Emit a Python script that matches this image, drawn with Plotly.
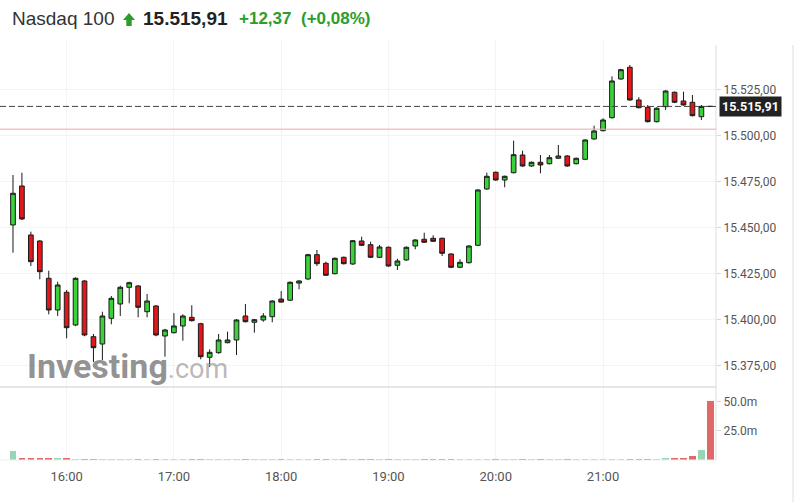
import pandas as pd
import plotly.graph_objects as go

# 5-minute candles, 15:30 - 22:00
times = pd.date_range("2023-07-13 15:30", periods=79, freq="5min")

open_ = [15451.47, 15472.66, 15446.03, 15442.77, 15422.50, 15405.27, 15414.89, 15397.12, 15421.03, 15390.76,
         15386.79, 15400.76, 15408.53, 15417.61, 15418.32, 15404.35, 15407.45, 15391.14, 15392.93, 15396.58,
         15401.30, 15397.83, 15379.57, 15382.07, 15387.50, 15388.97, 15402.01, 15398.59, 15399.84, 15401.63,
         15411.20, 15410.60, 15419.89, 15422.12, 15435.33, 15430.65, 15425.00, 15433.91, 15430.27, 15442.77,
         15440.76, 15433.91, 15439.35, 15429.57, 15432.45, 15440.05, 15443.70, 15444.24, 15444.24, 15435.71,
         15428.48, 15430.98, 15440.43, 15471.03, 15480.11, 15475.92, 15479.89, 15489.51, 15483.53, 15485.54,
         15484.78, 15487.72, 15488.97, 15484.78, 15487.17, 15498.21, 15502.72, 15509.78, 15530.82, 15537.17,
         15519.40, 15515.43, 15507.61, 15515.76, 15523.59, 15518.86, 15518.15, 15510.33, 15515.91]
high = [15478.64, 15479.89, 15447.83, 15443.20, 15426.63, 15420.65, 15416.14, 15423.00, 15421.50, 15392.23,
        15404.35, 15412.88, 15418.50, 15420.65, 15418.80, 15413.97, 15408.00, 15395.00, 15403.59, 15402.93,
        15407.83, 15398.30, 15383.91, 15392.23, 15393.48, 15400.30, 15408.53, 15400.40, 15403.59, 15410.60,
        15415.54, 15420.80, 15421.50, 15435.80, 15437.88, 15431.52, 15433.80, 15434.30, 15443.30, 15445.11,
        15442.39, 15440.60, 15439.80, 15433.15, 15439.80, 15443.70, 15447.28, 15445.87, 15444.60, 15436.10,
        15432.83, 15440.50, 15470.90, 15479.89, 15480.50, 15478.30, 15497.28, 15491.85, 15486.00, 15489.51,
        15489.51, 15494.95, 15489.40, 15488.10, 15498.10, 15505.43, 15509.46, 15532.28, 15536.30, 15538.42,
        15520.87, 15516.68, 15515.43, 15524.70, 15524.00, 15523.91, 15522.12, 15516.68, 15515.91]
low = [15436.41, 15454.20, 15429.18, 15421.96, 15402.93, 15402.01, 15389.89, 15396.50, 15391.00, 15377.01,
       15378.10, 15397.50, 15402.01, 15408.91, 15401.30, 15401.30, 15391.00, 15379.89, 15392.50, 15388.59,
       15399.00, 15378.48, 15374.29, 15381.50, 15387.17, 15380.82, 15398.50, 15392.93, 15398.91, 15398.59,
       15409.20, 15410.20, 15416.52, 15421.70, 15429.18, 15423.70, 15424.60, 15430.00, 15429.80, 15440.00,
       15433.50, 15433.50, 15428.80, 15427.01, 15432.00, 15438.26, 15441.70, 15442.20, 15434.62, 15428.00,
       15428.00, 15430.50, 15440.00, 15470.60, 15475.50, 15471.96, 15479.50, 15483.10, 15483.10, 15479.57,
       15484.40, 15487.30, 15483.10, 15484.40, 15486.70, 15497.80, 15502.30, 15509.30, 15530.40, 15519.00,
       15514.80, 15507.20, 15507.20, 15513.97, 15517.70, 15516.30, 15510.50, 15508.53, 15515.91]
close = [15468.70, 15454.73, 15431.52, 15426.09, 15405.27, 15418.86, 15395.65, 15422.50, 15391.68, 15384.78,
         15402.01, 15411.63, 15417.61, 15420.11, 15406.74, 15410.16, 15391.68, 15394.40, 15396.58, 15402.01,
         15399.46, 15379.89, 15382.28, 15388.97, 15388.97, 15399.84, 15398.91, 15400.00, 15402.01, 15410.16,
         15409.57, 15420.33, 15421.03, 15435.33, 15430.43, 15424.13, 15433.37, 15430.43, 15442.93, 15440.43,
         15433.91, 15439.51, 15429.18, 15431.90, 15439.35, 15443.32, 15442.07, 15442.61, 15436.09, 15428.48,
         15431.20, 15440.05, 15470.49, 15477.93, 15475.92, 15477.93, 15489.67, 15483.53, 15485.54, 15484.08,
         15488.04, 15488.97, 15483.53, 15487.72, 15497.66, 15502.55, 15508.53, 15529.73, 15535.87, 15519.40,
         15515.22, 15507.61, 15514.89, 15524.29, 15518.15, 15516.68, 15510.87, 15515.91, 15515.91]
volume_m = [7.5, 1.6, 1.5, 1.5, 1.6, 1.4, 1.5] + [0.7] * 66 + [1.5, 1.5, 1.5, 3.5, 8.2, 51.0]

last_price = 15515.91
prev_close = 15503.54
price_ticks = [15375, 15400, 15425, 15450, 15475, 15500, 15525]
hour_ticks = pd.date_range("2023-07-13 16:00", periods=6, freq="1h")

GREEN = "#3ad13a"
RED = "#e3161b"
vol_colors = ["#98d5b8" if c > o else "#e06868" for o, c in zip(open_, close)]

fig = go.Figure()
fig.add_trace(go.Candlestick(
    x=times, open=open_, high=high, low=low, close=close,
    increasing=dict(fillcolor=GREEN, line=dict(color="#1a1a1a", width=1)),
    decreasing=dict(fillcolor=RED, line=dict(color="#1a1a1a", width=1)),
    whiskerwidth=0, xaxis="x", yaxis="y", showlegend=False,
))
fig.add_trace(go.Bar(
    x=times, y=[v * 1e6 for v in volume_m], marker_color=vol_colors, marker_line_width=0,
    width=220000, xaxis="x", yaxis="y2", showlegend=False,
))

W, H = 716, 420  # plot area in px


def px(x):
    return x / W


def py(y):
    return (460 - y) / H


grid = "#f4f4f4"
axis_font = dict(family="Roboto", size=12, color="#555")
fig.update_layout(
    width=797, height=502,
    margin=dict(l=0, r=81, t=40, b=42),
    paper_bgcolor="white", plot_bgcolor="white",
    separators=",.",
    bargap=0, boxgap=0.25,
    xaxis=dict(
        type="date", anchor="y2",
        range=["2023-07-13 15:22:44", "2023-07-13 22:03:11"],
        tickformat="%H:%M", tickvals=hour_ticks,
        showgrid=True, gridcolor=grid, zeroline=False,
        ticks="outside", ticklen=4, tickcolor="rgba(0,0,0,0)",
        tickfont=dict(family="Roboto", size=13, color="#555"),
        rangeslider=dict(visible=False), showline=False,
    ),
    yaxis=dict(
        domain=[py(387), 1], side="right", range=[15363.42, 15552.0],
        tickvals=price_ticks, tickformat=",.2f",
        showgrid=True, gridcolor=grid, zeroline=False,
        ticks="outside", ticklen=4, tickcolor="#d8d8d8",
        tickfont=axis_font, showline=False,
    ),
    yaxis2=dict(
        domain=[0, py(388)], side="right", range=[0, 62e6],
        tickvals=[25e6, 50e6], ticktext=["25.0m", "50.0m"],
        showgrid=False, zeroline=False,
        ticks="outside", ticklen=4, tickcolor="#d8d8d8",
        tickfont=axis_font, showline=False,
    ),
)

# frame lines
fig.add_shape(type="line", xref="paper", yref="paper", x0=0, x1=1, y0=py(387), y1=py(387),
              line=dict(color="#cccccc", width=1))
fig.add_shape(type="line", xref="paper", yref="paper", x0=1, x1=1, y0=0, y1=py(45),
              line=dict(color="#dddddd", width=1))
fig.add_shape(type="line", xref="paper", yref="paper", x0=0, x1=1, y0=0, y1=0,
              line=dict(color="#eeeeee", width=1))
fig.add_shape(type="line", xref="paper", yref="paper", x0=px(793), x1=px(793), y0=py(502), y1=py(45),
              line=dict(color="#dddddd", width=1))

# previous close and last price lines
fig.add_shape(type="line", xref="paper", yref="y", x0=0, x1=1, y0=prev_close, y1=prev_close,
              line=dict(color="#f0a8a8", width=1))
fig.add_shape(type="line", xref="paper", yref="y", x0=0, x1=1, y0=last_price, y1=last_price,
              line=dict(color="#444", width=1, dash="6px,3px"))
fig.add_annotation(xref="paper", yref="y", x=px(719), y=last_price, xanchor="left", yanchor="middle",
                   text="<b>15.515,91</b>", showarrow=False, bgcolor="#222", borderpad=2,
                   font=dict(family="Roboto", size=12.5, color="white"))

# header
title_y = py(19)
fig.add_annotation(xref="paper", yref="paper", x=px(10), y=title_y, xanchor="left", yanchor="middle",
                   text="Nasdaq 100", showarrow=False,
                   font=dict(family="Liberation Sans", size=19, color="#333"))
arrow = [(123, 20), (129, 13), (135, 20), (131.7, 20), (131.7, 26), (126.3, 26), (126.3, 20)]
fig.add_shape(type="path", xref="paper", yref="paper",
              path="M " + " L ".join(f"{px(a)},{py(b)}" for a, b in arrow) + " Z",
              fillcolor="#2a9d2a", line=dict(width=0))
fig.add_annotation(xref="paper", yref="paper", x=px(141), y=title_y, xanchor="left", yanchor="middle",
                   text="<b>15.515,91</b>", showarrow=False,
                   font=dict(family="Liberation Sans", size=19, color="#222"))
fig.add_annotation(xref="paper", yref="paper", x=px(237), y=title_y, xanchor="left", yanchor="middle",
                   text="<b>+12,37</b>", showarrow=False,
                   font=dict(family="Liberation Sans", size=17, color="#2a9d2a"))
fig.add_annotation(xref="paper", yref="paper", x=px(299), y=title_y, xanchor="left", yanchor="middle",
                   text="<b>(+0,08%)</b>", showarrow=False,
                   font=dict(family="Liberation Sans", size=17, color="#2a9d2a"))

# watermark
fig.add_annotation(xref="paper", yref="paper", x=px(25), y=py(366), xanchor="left", yanchor="middle",
                   text="<b>Investing</b><span style='font-size:27px;color:rgba(150,150,150,0.8)'>.com</span>",
                   showarrow=False,
                   font=dict(family="Roboto", size=34, color="rgba(128,128,128,0.85)"))

fig.write_html("out.html", config={"displayModeBar": False},
               post_script="document.body.style.margin='0';")
